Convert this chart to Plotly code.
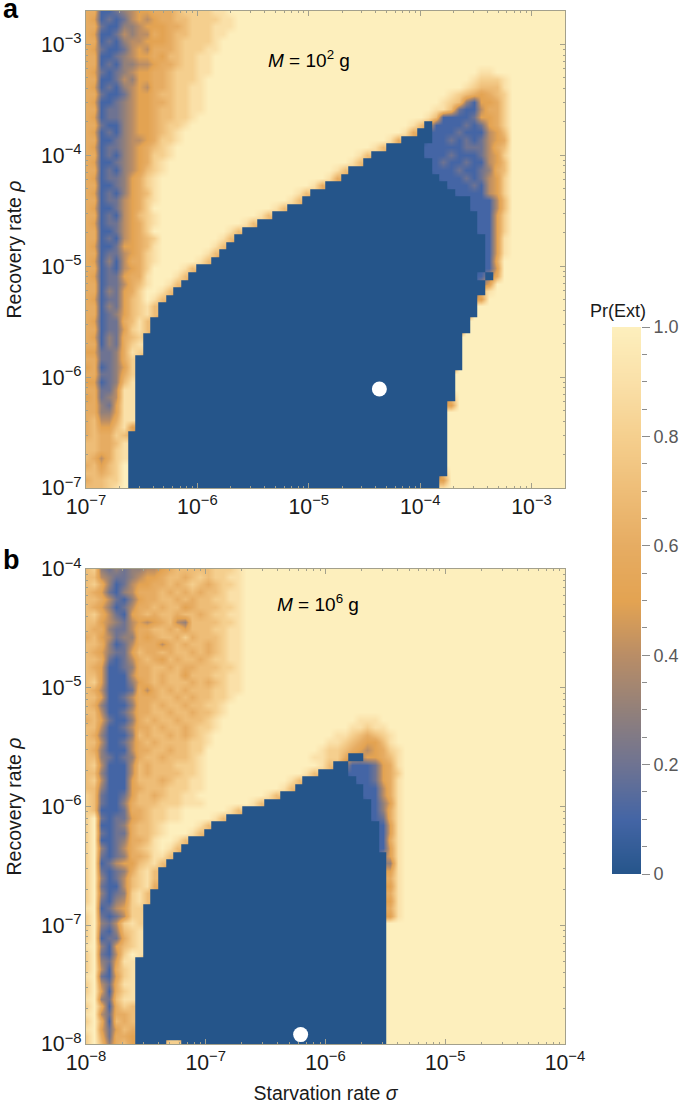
import numpy as np
import plotly.graph_objects as go

W, H = 685, 1106
_FONT = "Liberation Sans"
_LINE = "#a3a08c"

# cell codes: # = 0, digits = tenths, . = 1 (rows run top to bottom, 8 cells per group)
PANEL_A_ROWS = [
    "66112345 56667888 899",
    "65121245 45667788 8899",
    "66211334 55566788 8999",
    "65112434 46567788 899",
    "66121344 55567888 89",
    "65211245 46667888 99",
    "66112345 56577889 9",
    "66121334 45667889 9",
    "65212345 56678889 9....... ........ ........ ........ ....99",
    "66112435 56678889 ........ ........ ........ ........ ...98889",
    "65121345 46678899 ........ ........ ........ ........ ..987779",
    "66211245 56778899 ........ ........ ........ ........ 98765678",
    "65112345 56678899 ........ ........ ........ .......9 87315568",
    "66122345 56778899 ........ ........ ........ ......99 72114668",
    "65122345 5677889. ........ ........ ........ .....971 11125568",
    "66211345 567889.. ........ ........ ........ ...97#11 11212568",
    "65121345 56789... ........ ........ ........ ..96##11 12111457",
    "66112344 56889... ........ ........ ........ 96####11 21212456",
    "65122345 6789.... ........ ........ ......97 #####111 11222467",
    "66121345 6889.... ........ ........ ....97## #####111 21112458",
    "65112345 689..... ........ ........ ...97### ######12 11211457",
    "66121345 789..... ........ ........ .97##### ######11 12112367",
    "65122356 89...... ........ ........ 96###### #######1 11212458",
    "66112356 89...... ........ ......96 ######## ######## 11121458",
    "65121356 79...... ........ ....97## ######## ######## #1111458",
    "66122456 89...... ........ ...97### ######## ######## ###11147",
    "65112456 8....... ........ .97##### ######## ######## ###11147",
    "66121457 89...... .......9 7####### ######## ######## ####1158",
    "65122456 89...... .....97# ######## ######## ######## ####1158",
    "66112456 8....... ...97### ######## ######## ######## ####1158",
    "66121456 78...... ..97#### ######## ######## ######## #####159",
    "65112556 79...... .97##### ######## ######## ######## #####159",
    "66122456 89...... 97###### ######## ######## ######## #####159",
    "65131466 89.....9 7####### ######## ######## ######## #####16.",
    "66121456 8....97# ######## ######## ######## ######## #####15.",
    "65122566 9...97## ######## ######## ######## ######## ####1#6.",
    "66122467 9..97### ######## ######## ######## ######## #####5..",
    "66132568 ..97#### ######## ######## ######## ######## #####9..",
    "65122578 .97##### ######## ######## ######## ######## ####5...",
    "66132578 97###### ######## ######## ######## ######## ####....",
    "66123578 97###### ######## ######## ######## ######## ####....",
    "65122679 7####### ######## ######## ######## ######## ###.....",
    "66122589 7####### ######## ######## ######## ######## ###.....",
    "65132678 ######## ######## ######## ######## ######## ##......",
    "66132689 ######## ######## ######## ######## ######## ##......",
    "55223698 ######## ######## ######## ######## ######## ##......",
    "6622368# ######## ######## ######## ######## ######## ##......",
    "5612358# ######## ######## ######## ######## ######## ##......",
    "6622368# ######## ######## ######## ######## ######## #.......",
    "5512379# ######## ######## ######## ######## ######## #.......",
    "6622499# ######## ######## ######## ######## ######## #.......",
    "5623499# ######## ######## ######## ######## ######## #.......",
    "6632599# ######## ######## ######## ######## ######## 5.......",
    "6633599# ######## ######## ######## ######## ######## ........",
    "6744699# ######## ######## ######## ######## ######## ........",
    "6755795# ######## ######## ######## ######## ######## ........",
    "676687## ######## ######## ######## ######## ######## ........",
    "776679## ######## ######## ######## ######## ######## ........",
    "776689## ######## ######## ######## ######## ######## ........",
    "764689## ######## ######## ######## ######## ######## ........",
    "67578.## ######## ######## ######## ######## ######## ........",
    "77678.## ######## ######## ######## ######## ######## ........",
    "67788.## ######## ######## ######## ######## #######5 ........",
    "77789.## ######## ######## ######## ######## #######9 ........",
]

PANEL_B_ROWS = [
    "78323233 44567777 78889",
    "77432234 55677678 78899",
    "78631245 56676787 67889",
    "76521346 66767676 77899",
    "77642135 66776767 78899",
    "76531246 67677567 77889",
    "78642156 76776776 78899",
    "77543245 45674377 77889",
    "76632246 67767577 78899",
    "67542336 56776867 77899",
    "77631246 66467677 67899",
    "76532257 66767767 67899",
    "77621246 76576776 78899",
    "76511236 67767667 77889",
    "77511146 67677577 78899",
    "78511135 67677767 67899",
    "76411126 46767677 78899",
    "77511246 66776767 7889",
    "76311136 67677677 889",
    "77411246 67767767 789",
    "67521136 76776777 89...... ........ ....999",
    "77411246 67677678 89...... ........ ...99899",
    "76311137 67767678 9....... ........ .9987678 9",
    "77411246 76777788 9....... ........ 99876557 9",
    "76311146 67767788 ........ .......9 88765456 89",
    "77321236 77677789 ........ ......99 886##556 79",
    "78411147 67778889 ........ .......9 7##11125 69",
    "77311147 67777889 ........ .....97# ###11125 68",
    "78411157 77678899 ........ ...97### ####1125 69",
    "77311156 77788899 ........ ..97#### #####114 69",
    "87211257 7678899. ........ 97###### #####114 69",
    "87211367 77888999 ......97 ######## ######13 59",
    "87111266 78899... ...97### ######## ######13 69",
    "8.212256 78899... .97##### ######## ######12 69",
    "8.112367 789....9 7####### ######## #######1 59",
    "8.212267 789...97 ######## ######## #######1 59",
    "8.112366 79..97## ######## ######## #######1 69",
    "8.312467 89.97### ######## ######## #######1 59",
    "8.212366 7997#### ######## ######## ######## 59",
    "8.124557 897##### ######## ######## ######## 39",
    "8.212368 97###### ######## ######## ######## 59",
    "8.312478 97###### ######## ######## ######## 69",
    "8.211478 96###### ######## ######## ######## 59",
    "8.312389 7####### ######## ######## ######## 69",
    "8.213489 7####### ######## ######## ######## 59",
    "9.124588 ######## ######## ######## ######## 69",
    "8.212488 ######## ######## ######## ######## 59",
    "8.324898 ######## ######## ######## ########",
    "8.213789 ######## ######## ######## ########",
    "8.122689 ######## ######## ######## ########",
    "9.315789 ######## ######## ######## ########",
    "8.2148.9 ######## ######## ######## ########",
    "8.32599# ######## ######## ######## ########",
    "8.41689# ######## ######## ######## ########",
    "9.21589# ######## ######## ######## ########",
    "8.42699# ######## ######## ######## ########",
    "8.51689# ######## ######## ######## ########",
    "9.32799# ######## ######## ######## ########",
    "8.61687# ######## ######## ######## ########",
    "9.42667# ######## ######## ######## ########",
    "8.61767# ######## ######## ######## ########",
    "9.52576# ######## ######## ######## ########",
    "8.62665# ######## ######## ######## ########",
    "8.73675# ###88### ######## ######## ########",
]

PANEL_A_DOT = ([4.3e-5], [7.8e-7])
PANEL_B_DOT = ([6.2e-7], [1.2e-8])
BAR_LEVELS = [i / 20 for i in range(21)]
BAR_TICKS = [0, 0.2, 0.4, 0.6, 0.8, 1.0]
BAR_LABELS = ["0", "0.2", "0.4", "0.6", "0.8", "1.0"]

COLORSCALE = [
    [0.0, "#25558a"], [0.1, "#4465a5"], [0.2, "#6e7392"], [0.3, "#92807a"],
    [0.4, "#b98d66"], [0.5, "#e3a352"], [0.6, "#e6ac62"], [0.7, "#eebd77"],
    [0.8, "#f5cf8e"], [0.9, "#fae0a8"], [1.0, "#fdefbd"],
]


def decode(rows):
    out = []
    for row in rows[::-1]:
        row = row.replace(" ", "").ljust(64, ".")[:64]
        out.append([1.0 if c == "." else 0.0 if c == "#" else int(c) / 10 for c in row])
    return np.array(out)


def solid_cells(z):
    # the saturated region keeps hard cell edges, as in the original
    return [[0.0 if v == 0 else None for v in row] for row in z]


def soft_cells(z):
    # smoothed layer under the solid one: solid cells copy their neighbours so no halo shows
    out = z.copy()
    n = len(z)
    for i in range(n):
        for j in range(n):
            if z[i, j] == 0:
                around = [z[a, b] for a, b in ((i - 1, j), (i + 1, j), (i, j - 1), (i, j + 1))
                          if 0 <= a < n and 0 <= b < n and z[a, b] > 0]
                out[i, j] = np.mean(around) if around else 0.0
    return out


def dom_x(a, b):
    return [a / W, b / W]


def dom_y(top, bottom):
    return [1 - bottom / H, 1 - top / H]


def log_axis(rng, title=None, standoff=0):
    ax = dict(
        type="log", range=rng, dtick=1, exponentformat="power", automargin=False,
        ticks="inside", ticklen=5, tickcolor=_LINE, tickwidth=1,
        showline=True, linecolor=_LINE, linewidth=1, mirror="allticks",
        showgrid=False, zeroline=False,
        minor=dict(ticks="inside", ticklen=2, dtick="D1", tickcolor=_LINE, showgrid=False),
        tickfont=dict(size=17, color="#1a1a1a", family=_FONT),
    )
    if title:
        ax["title"] = dict(text=title, standoff=standoff, font=dict(size=19.5, color="#1a1a1a", family=_FONT))
    return ax


def add_panel(fig, rows, grid, dot, xa, ya):
    z = decode(rows)
    fig.add_trace(go.Heatmap(x=grid, y=grid, z=soft_cells(z), colorscale=COLORSCALE, zmin=0, zmax=1,
                             zsmooth="best", showscale=False, xaxis=xa, yaxis=ya))
    fig.add_trace(go.Heatmap(x=grid, y=grid, z=solid_cells(z), colorscale=COLORSCALE, zmin=0, zmax=1,
                             showscale=False, xaxis=xa, yaxis=ya))
    fig.add_trace(go.Scatter(x=dot[0], y=dot[1], mode="markers", marker=dict(size=15, color="white"),
                             showlegend=False, xaxis=xa, yaxis=ya))


fig = go.Figure()
add_panel(fig, PANEL_A_ROWS, np.logspace(-7, -2.7, 64), PANEL_A_DOT, "x", "y")
add_panel(fig, PANEL_B_ROWS, np.logspace(-8, -4, 64), PANEL_B_DOT, "x2", "y2")
fig.add_trace(go.Heatmap(
    x=[0, 1], y=BAR_LEVELS, z=[[v, v] for v in BAR_LEVELS],
    colorscale=COLORSCALE, zmin=0, zmax=1, zsmooth="best", showscale=False,
    xaxis="x3", yaxis="y3",
))

fig.update_layout(
    width=W, height=H, margin=dict(l=0, r=0, t=0, b=0),
    paper_bgcolor="white", plot_bgcolor="white", showlegend=False,
    font=dict(family=_FONT, color="#1a1a1a"),
    xaxis=dict(domain=dom_x(86, 565), anchor="y", **log_axis([-7, -2.7])),
    yaxis=dict(domain=dom_y(11, 488), anchor="x", **log_axis([-7, -2.7], "Recovery rate <i>ρ</i>", 14)),
    xaxis2=dict(domain=dom_x(86, 565), anchor="y2", **log_axis([-8, -4], "Starvation rate <i>σ</i>", 12)),
    yaxis2=dict(domain=dom_y(569, 1044), anchor="x2", **log_axis([-8, -4], "Recovery rate <i>ρ</i>", 14)),
    xaxis3=dict(domain=dom_x(612, 641), anchor="y3", range=[0, 1], showticklabels=False, automargin=False,
                ticks="", showgrid=False, zeroline=False),
    yaxis3=dict(domain=dom_y(327, 874), anchor="x3", side="right", range=[0, 1], automargin=False,
                tickvals=BAR_TICKS, ticktext=BAR_LABELS, ticks="outside", ticklen=8,
                tickcolor="#8c8c8c", showgrid=False, zeroline=False,
                minor=dict(ticks="outside", ticklen=5, dtick=0.05, tickcolor="#8c8c8c", showgrid=False),
                tickfont=dict(size=18, color="#595959", family=_FONT)),
    annotations=[
        dict(text="<b>a</b>", x=1 / W, y=1 - 9 / H, xref="paper", yref="paper", xanchor="left",
             yanchor="middle", showarrow=False, font=dict(size=27, color="black")),
        dict(text="<b>b</b>", x=1 / W, y=1 - 560 / H, xref="paper", yref="paper", xanchor="left",
             yanchor="middle", showarrow=False, font=dict(size=27, color="black")),
        dict(text="<i>M</i> = 10<sup>2</sup> g", x=309 / W, y=1 - 45 / H, xref="paper", yref="paper",
             showarrow=False, font=dict(size=19, color="black")),
        dict(text="<i>M</i> = 10<sup>6</sup> g", x=318 / W, y=1 - 603 / H, xref="paper", yref="paper",
             showarrow=False, font=dict(size=19, color="black")),
        dict(text="Pr(Ext)", x=648 / W, y=1 - 299 / H, xref="paper", yref="paper",
             showarrow=False, font=dict(size=18, color="#1a1a1a")),
    ],
)

fig.write_html("out.html", config=dict(displayModeBar=False),
               post_script="document.body.style.margin = '0';")
